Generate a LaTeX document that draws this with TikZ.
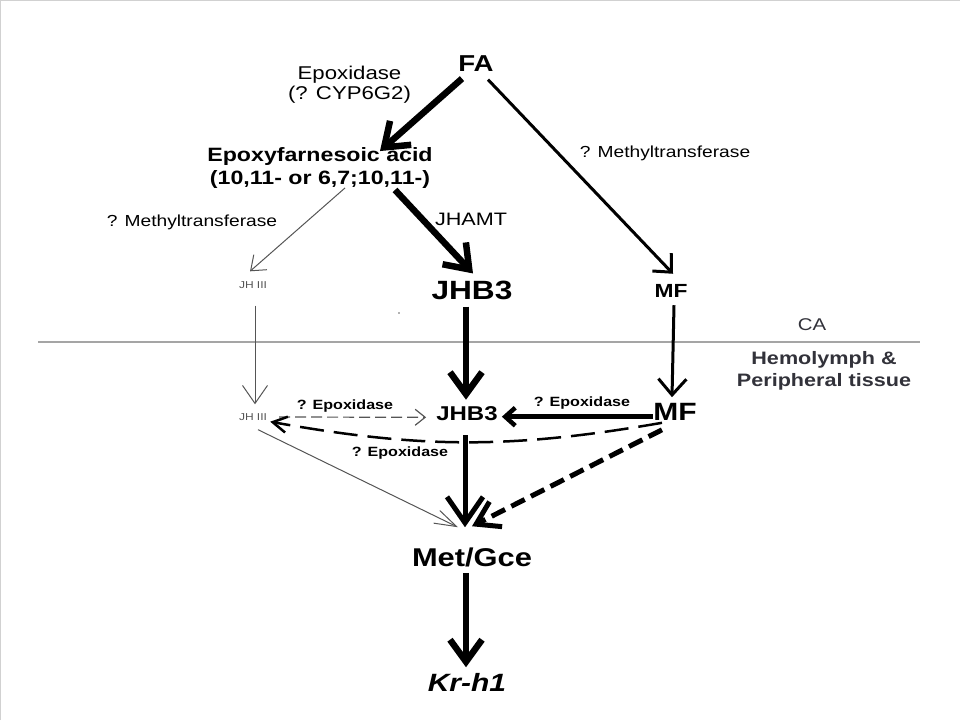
\documentclass[tikz,border=0pt]{standalone}
\usepackage{fontspec}
\setmainfont{Liberation Sans}[FakeStretch=1.2]
\usetikzlibrary{arrows.meta}

\definecolor{linegray}{RGB}{165,165,165}
\definecolor{thingray}{RGB}{85,85,85}
\definecolor{textgray}{RGB}{50,50,58}

\begin{document}
\begin{tikzpicture}[x=1pt,y=-1pt,
  lbl/.style 2 args={inner sep=0pt,align=center,font=\fontsize{#1}{#2}\selectfont},
  blbl/.style 2 args={inner sep=0pt,align=center,font=\fontsize{#1}{#2}\selectfont\bfseries},
  heavy/.style={line width=6.5pt,-{Straight Barb[length=22pt,width=32pt]}},
  medium/.style={line width=3pt,-{Straight Barb[length=14pt,width=26pt]}},
  thinarr/.style={thingray,line width=1pt,-{Straight Barb[length=13pt,width=20pt]}}]
\useasboundingbox (0,0) rectangle (960,720);
\draw[black!18,line width=1pt] (0.5,720) -- (0.5,0.5) -- (960,0.5);

% CA side
\node[blbl={23}{23}] (fa) at (476,63.5) {FA};
\node[lbl={18.5}{20}] (epox) at (349.5,84.4) {Epoxidase\\(? CYP6G2)};
\node[blbl={19.3}{23.5}] (epa) at (320,168) {Epoxyfarnesoic acid\\(10,11- or 6,7;10,11-)};
\node[lbl={16}{16}] (mtl) at (192,222.5) {? Methyltransferase};
\node[lbl={18}{18}] (jhamt) at (471,219) {JHAMT};
\node[lbl={10}{10},text=thingray] (jha) at (253,285) {JH III};
\node[blbl={26.4}{26.4}] (jhba) at (472,290) {JHB3};
\node[lbl={16}{16}] (mtr) at (665,153) {? Methyltransferase};
\node[blbl={19}{19}] (mfa) at (671,290.5) {MF};

% border between gland and hemolymph
\draw[linegray,line width=2.5pt] (38,342) -- (920,342);
\node[lbl={17}{17},text=textgray] (ca) at (812,325) {CA};
\node[blbl={18}{21.7},text=textgray] (hemo) at (824,371) {Hemolymph \&\\Peripheral tissue};
\fill[black!60] (399,313) circle (0.8pt);

% hemolymph side
\node[lbl={10}{10},text=thingray] (jhb) at (253,417) {JH III};
\node[blbl={13.4}{13.4}] (epu) at (345,406) {? Epoxidase};
\node[blbl={20}{20}] (jhbb) at (467,414) {JHB3};
\node[blbl={13.4}{13.4}] (epr) at (582,403) {? Epoxidase};
\node[blbl={25}{25}] (mfb) at (675,412) {MF};
\node[blbl={13.4}{13.4}] (epd) at (400,453) {? Epoxidase};
\node[blbl={25.7}{25.7}] (met) at (472,557) {Met/Gce};
\node[blbl={25}{25},font=\fontsize{25}{25}\selectfont\bfseries\itshape] (kr) at (467,682.5) {Kr-h1};

% biosynthesis
\draw[heavy] ([xshift=-14pt,yshift=-7pt]fa.south) -- ([xshift=60pt,yshift=-4pt]epa.north);
\draw[medium] ([xshift=12pt,yshift=-8pt]fa.south) -- ([xshift=2pt,yshift=10pt]mfa.north);
\draw[heavy] ([xshift=75pt,yshift=-1pt]epa.south) -- ([xshift=1pt,yshift=7pt]jhba.north);
\draw[thinarr] ([xshift=25pt,yshift=1pt]epa.south) -- ([xshift=-3pt,yshift=10pt]jha.north);

% release
\draw[thinarr,-{Straight Barb[length=18pt,width=25pt]}] ([xshift=2pt,yshift=-17pt]jha.south) -- ([xshift=2pt,yshift=9pt]jhb.north);
\draw[heavy] ([xshift=-6pt,yshift=-7pt]jhba.south) -- ([xshift=-1pt,yshift=7pt]jhbb.north);
\draw[medium,-{Straight Barb[length=16pt,width=28pt]}] ([xshift=3pt,yshift=-8pt]mfa.south) -- ([xshift=-3pt,yshift=6pt]mfb.north);

% conversions
\draw[line width=4.5pt,-{Straight Barb[length=10pt,width=18pt]}] ([yshift=-4.7pt]mfb.west) -- ([xshift=4pt,yshift=-2.7pt]jhbb.east);
\draw[thingray,line width=1.2pt,dash pattern=on 11pt off 5pt,-{Straight Barb[length=10pt,width=16pt]}] ([xshift=12pt]jhb.east) -- ([xshift=-10pt,yshift=-3.3pt]jhbb.west);
\draw[line width=2.5pt,dash pattern=on 24pt off 10pt,-{Straight Barb[length=14pt,width=16pt]}] ([xshift=-13pt,yshift=-2pt]mfb.south) to[bend left=10] ([xshift=3pt,yshift=-4.7pt]jhb.east);

% receptor
\draw[thinarr,-{Straight Barb[length=22pt,width=14pt]}] ([xshift=5pt,yshift=-9pt]jhb.south) -- ([xshift=-14pt,yshift=20pt]met.north);
\draw[line width=5pt,-{Straight Barb[length=26pt,width=36pt]}] ([xshift=-2pt,yshift=-14pt]jhbb.south) -- ([xshift=-7pt,yshift=20pt]met.north);
\draw[line width=5pt,dash pattern=on 15pt off 7pt,-{Straight Barb[length=22pt,width=28pt]}] ([xshift=-13pt,yshift=-9pt]mfb.south) -- ([yshift=21pt]met.north);
\draw[heavy] ([xshift=-6pt,yshift=-6pt]met.south) -- ([xshift=-1pt,yshift=6pt]kr.north);
\end{tikzpicture}
\end{document}
